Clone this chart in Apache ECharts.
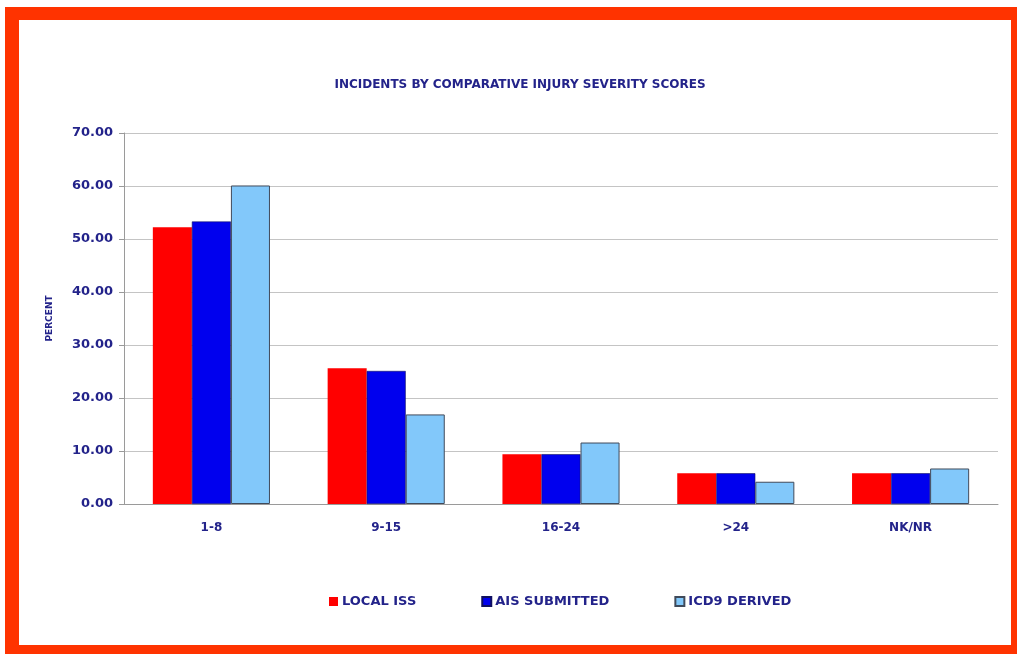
<!DOCTYPE html>
<html><head><meta charset="utf-8">
<script src="https://cdn.jsdelivr.net/npm/echarts@6/dist/echarts.min.js"></script>
<style>
html,body{margin:0;padding:0;background:#fff;width:1017px;height:654px;overflow:hidden;}
#frame{position:absolute;left:5px;top:7px;width:992px;height:625px;border-style:solid;border-color:#ff3300;border-width:13px 6px 9px 14px;background:#fff;}
#chart{position:absolute;left:0;top:0;width:1017px;height:654px;}
</style></head>
<body>
<div id="frame"></div>
<div id="chart"></div>
<script>
const categories = ['1-8', '9-15', '16-24', '>24', 'NK/NR'];
const localISS = [52.2, 25.6, 9.4, 5.8, 5.8];
const aisSubmitted = [53.3, 25.1, 9.4, 5.8, 5.8];
const icd9Derived = [60.1, 16.9, 11.6, 4.2, 6.7];
const yTicks = [0, 10, 20, 30, 40, 50, 60, 70];

const navy = '#23238a';
const font = 'DejaVu Sans';
const chart = echarts.init(document.getElementById('chart'), null, {renderer: 'canvas'});
chart.setOption({
  backgroundColor: 'transparent',
  animation: false,
  title: {
    text: 'INCIDENTS BY COMPARATIVE INJURY SEVERITY SCORES',
    left: 515, textAlign: 'center', top: 74,
    textStyle: {color: navy, fontFamily: font, fontWeight: 'bold', fontSize: 12}
  },
  legend: {
    left: 324, top: 590, itemWidth: 9, itemHeight: 9, itemGap: 65,
    icon: 'rect',
    textStyle: {color: navy, fontFamily: font, fontWeight: 'bold', fontSize: 13, padding: [0, 0, 0, -1]},
    data: ['LOCAL ISS', 'AIS SUBMITTED', 'ICD9 DERIVED']
  },
  grid: {left: 124, right: 19, top: 133, bottom: 150},
  xAxis: {
    type: 'category', data: categories,
    axisLine: {lineStyle: {color: '#9a9a9a', width: 1}},
    axisTick: {length: 5, lineStyle: {color: '#9a9a9a'}},
    axisLabel: {color: navy, fontFamily: font, fontWeight: 'bold', fontSize: 12, margin: 18}
  },
  yAxis: {
    type: 'value', min: yTicks[0], max: yTicks[yTicks.length - 1], interval: 10,
    name: 'PERCENT', nameLocation: 'middle', nameGap: 70, nameRotate: 90,
    nameTextStyle: {color: navy, fontFamily: font, fontWeight: 'bold', fontSize: 9},
    axisLine: {show: true, lineStyle: {color: '#9a9a9a'}},
    axisTick: {show: true, length: 5, lineStyle: {color: '#9a9a9a'}},
    axisLabel: {color: navy, fontFamily: font, fontWeight: 'bold', fontSize: 13, margin: 11,
      formatter: v => v.toFixed(2)},
    splitLine: {lineStyle: {color: '#c4c4c4', width: 1}}
  },
  series: [
    {name: 'LOCAL ISS', type: 'bar', data: localISS, barGap: '0%', barCategoryGap: '33%',
     itemStyle: {color: '#ff0000'}},
    {name: 'AIS SUBMITTED', type: 'bar', data: aisSubmitted,
     itemStyle: {color: '#0000ee', borderColor: '#101060', borderWidth: 0.6}},
    {name: 'ICD9 DERIVED', type: 'bar', data: icd9Derived,
     itemStyle: {color: '#82c8fa', borderColor: '#404a5a', borderWidth: 1}}
  ]
});
</script>
</body></html>
